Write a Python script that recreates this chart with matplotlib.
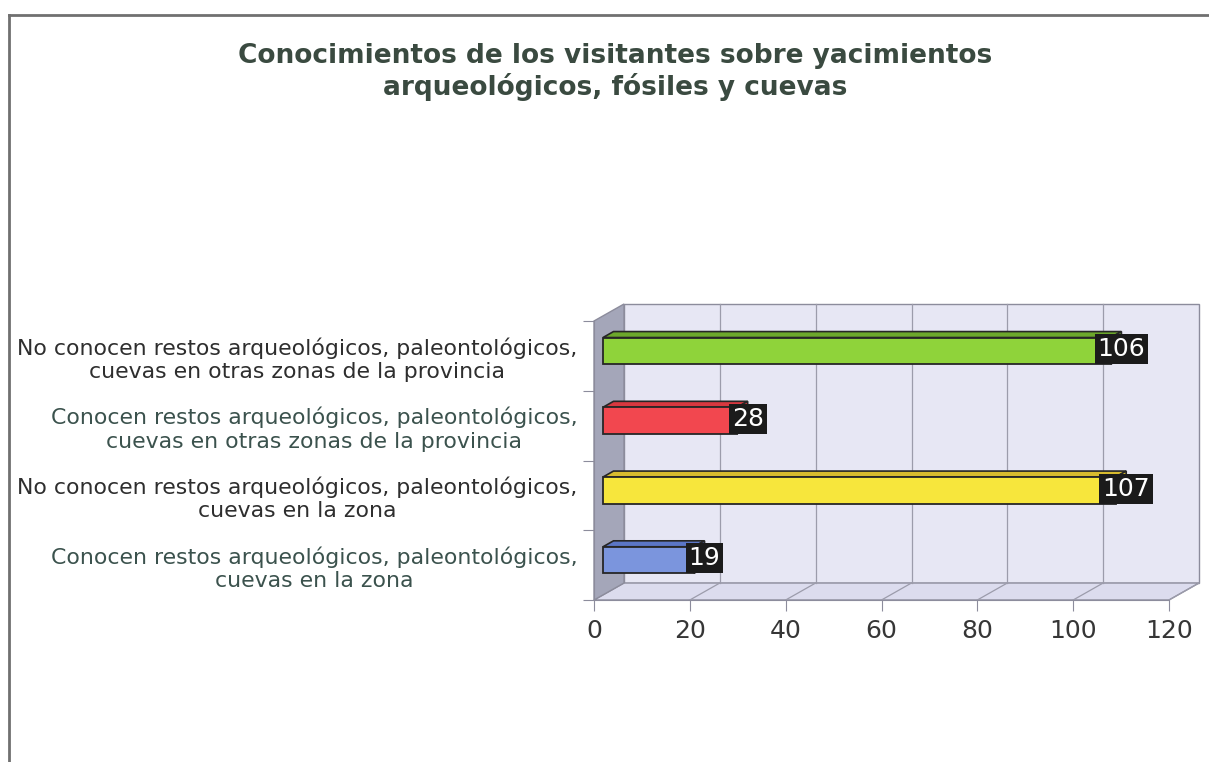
import numpy as np
import matplotlib
matplotlib.use("Agg")
import matplotlib.pyplot as plt
from matplotlib.patches import Polygon
from matplotlib.lines import Line2D

# the scan is stretched sideways, DejaVu is the widest sans we have
plt.rcParams['font.family'] = ['DejaVu Sans']

# data, bottom to top as drawn
categories = [
    "Conocen restos arqueológicos, paleontológicos,\ncuevas en la zona",
    "No conocen restos arqueológicos, paleontológicos,\ncuevas en la zona",
    "Conocen restos arqueológicos, paleontológicos,\ncuevas en otras zonas de la provincia",
    "No conocen restos arqueológicos, paleontológicos,\ncuevas en otras zonas de la provincia",
]
values = [19, 107, 28, 106]
xticks = [0, 20, 40, 60, 80, 100, 120]
title = "Conocimientos de los visitantes sobre yacimientos\narqueológicos, fósiles y cuevas"

front_colors = ["#7b95dd", "#f7e63c", "#f2474f", "#8fd33a"]
top_colors = ["#5b76c6", "#d8bb2e", "#d8383f", "#6ca82b"]
label_colors = ["#3b524d", "#2e2e2e", "#3b524d", "#2e2e2e"]

W, H = 1209, 762
fig = plt.figure(figsize=(W / 100, H / 100), dpi=100)

# front plane of the box (pixels)
left, right, bottom, top = 594, 1169, 600, 321
ax = fig.add_axes([left / W, 1 - bottom / H, (right - left) / W, (bottom - top) / H])
ax.set_xlim(0, 120)
ax.set_ylim(0, 4)
ax.patch.set_visible(False)

# box depth in px -> data units
depth_x, depth_y = 30, 17
DX = depth_x * 120 / (right - left)
DY = depth_y * 4 / (bottom - top)
XM, YM = ax.get_xlim()[1], ax.get_ylim()[1]

edge = '#8c8c9c'
ax.add_patch(Polygon([(DX, DY), (XM + DX, DY), (XM + DX, YM + DY), (DX, YM + DY)],
                     fc='#e7e7f4', ec=edge, lw=1, clip_on=False, zorder=0))
ax.add_patch(Polygon([(0, 0), (XM, 0), (XM + DX, DY), (DX, DY)],
                     fc='#dcdcee', ec=edge, lw=1, clip_on=False, zorder=0))
ax.add_patch(Polygon([(0, 0), (DX, DY), (DX, YM + DY), (0, YM)],
                     fc='#a4a6b9', ec=edge, lw=1, clip_on=False, zorder=0))
for t in xticks[1:-1]:
    ax.plot([t + DX, t + DX], [DY, YM + DY], color='#9c9cab', lw=0.9, clip_on=False, zorder=1)
for t in xticks[1:]:
    ax.plot([t, t + DX], [0, DY], color='#9c9cab', lw=0.9, clip_on=False, zorder=1)

# bars
f0, f1 = 0.3, 0.65
h = 0.38
ys = np.arange(len(values)) + 0.5
ax.barh(ys + f0 * DY, values, left=f0 * DX, height=h, color=front_colors,
        edgecolor='#262626', lw=1.3, zorder=4, clip_on=False)
ddx, ddy = (f1 - f0) * DX, (f1 - f0) * DY
for y, v, c in zip(ys, values, top_colors):
    x0 = f0 * DX
    yt = y + f0 * DY + h / 2
    ax.add_patch(Polygon([(x0, yt), (x0 + v, yt), (x0 + v + ddx, yt + ddy), (x0 + ddx, yt + ddy)],
                         fc=c, ec='#262626', lw=1.2, clip_on=False, zorder=3))
    ax.add_patch(Polygon([(x0 + v, yt - h), (x0 + v + ddx, yt - h + ddy), (x0 + v + ddx, yt + ddy), (x0 + v, yt)],
                         fc=c, ec='#262626', lw=1.2, clip_on=False, zorder=3))
    ax.text(v + f1 * DX, y + 0.4 * DY, str(v), ha='center', va='center', fontsize=18,
            color='white', zorder=6, clip_on=False,
            bbox=dict(boxstyle='square,pad=0.12', fc='#1b1b1b', ec='none'))

# axes
for s in ['top', 'right']:
    ax.spines[s].set_visible(False)
for s in ['bottom', 'left']:
    ax.spines[s].set_color(edge)
    ax.spines[s].set_zorder(2)
ax.set_xticks(xticks)
ax.tick_params(axis='x', length=8, color=edge, labelsize=18, labelcolor='#363636', pad=6)
ax.set_yticks(range(5))
ax.set_yticklabels([])
ax.tick_params(axis='y', which='major', length=8, color=edge)
ax.set_yticks(ys, categories, minor=True)
ax.tick_params(axis='y', which='minor', length=0, pad=12, labelsize=15.8)
for lbl, c in zip(ax.get_yticklabels(minor=True), label_colors):
    lbl.set_multialignment('center')
    lbl.set_color(c)
    lbl.set_linespacing(1.2)

fig.text(615 / W, 1 - 72 / H, title, ha='center', va='center', fontsize=19,
         fontweight='bold', color='#3a4a40', linespacing=1.2)

# page frame
fig.add_artist(Line2D([9 / W, 9 / W], [0, 1 - 15 / H], color='#707070', lw=2))
fig.add_artist(Line2D([9 / W, 1], [1 - 15 / H, 1 - 15 / H], color='#707070', lw=2))

fig.savefig('out.png', dpi=100)
